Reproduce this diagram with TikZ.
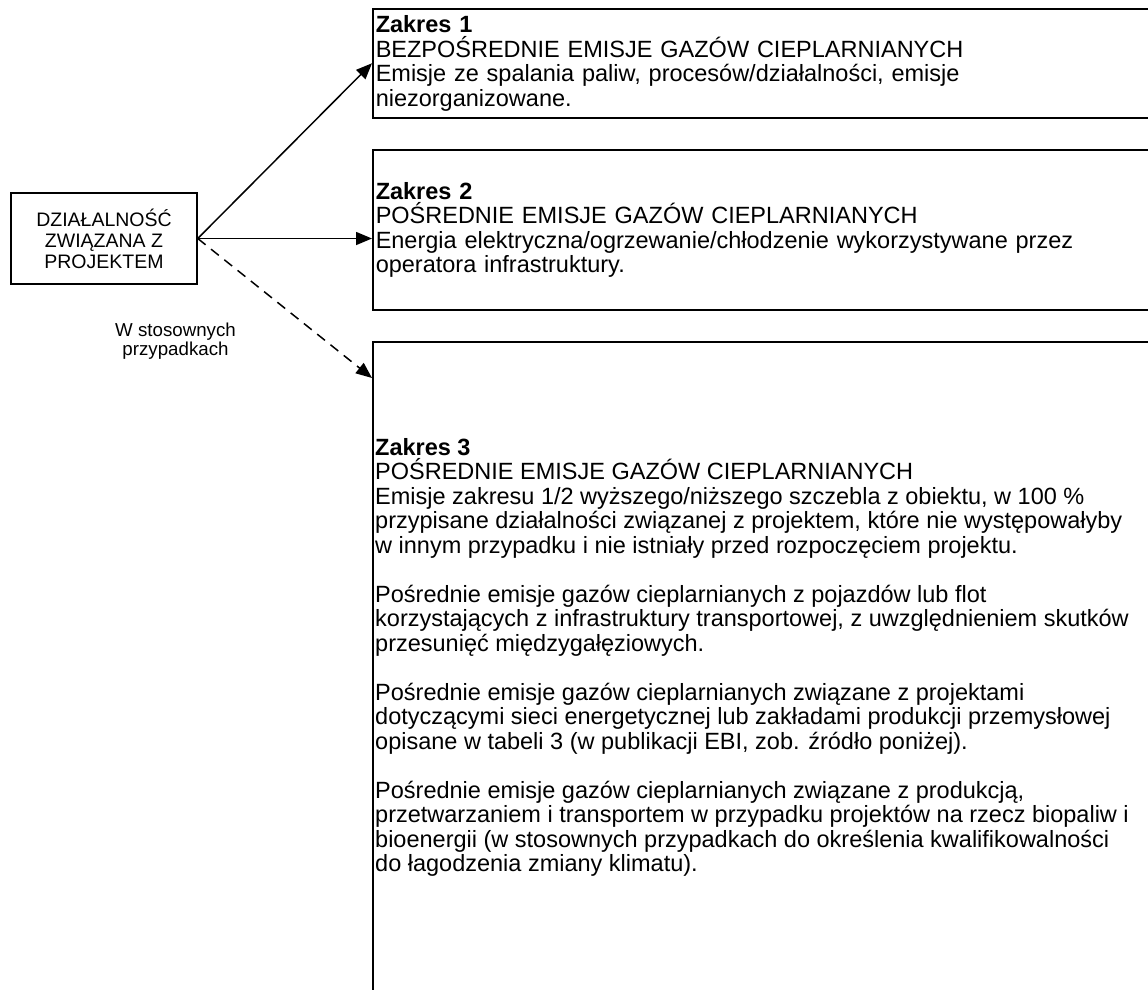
\documentclass[tikz,border=0pt]{standalone}
\usepackage{fontspec}
\setmainfont{Liberation Sans}
\usetikzlibrary{arrows.meta,positioning}

\tikzset{
  ramka/.style={draw, line width=1.5pt, anchor=north west, minimum width=800pt,
    text width=794pt, inner xsep=3pt, inner ysep=0pt, align=left,
    font=\fontsize{23.5}{24.5}\selectfont},
  opis/.style={anchor=north west, align=left, inner sep=0pt, font=\fontsize{23.5}{24.5}\selectfont},
  strzalka/.style={line width=1.5pt, -{Triangle[length=16pt,width=13pt]}},
}

\begin{document}
\begin{tikzpicture}[x=1pt,y=1pt]
\fill[white] (0,0) rectangle (1148,-989);
\useasboundingbox (0,0) rectangle (1148,-989);
% dzialalnosc
\node[draw, line width=1.5pt, minimum width=186pt, minimum height=91pt, align=center,
  font=\fontsize{19.5}{21}\selectfont] (dzialalnosc) at (104,-238.5)
  {DZIAŁALNOŚĆ\\ZWIĄZANA Z\\PROJEKTEM};
% ramki zakresow
\node[ramka, minimum height=109pt] (zakres1) at (372,-8)
  {\textbf{Zakres 1}\\
   BEZPOŚREDNIE EMISJE GAZÓW CIEPLARNIANYCH\\
   Emisje ze spalania paliw, procesów/działalności, emisje\\
   niezorganizowane.};
\node[ramka, minimum height=160pt] (zakres2) at (372,-149)
  {\textbf{Zakres 2}\\
   POŚREDNIE EMISJE GAZÓW CIEPLARNIANYCH\\
   Energia elektryczna/ogrzewanie/chłodzenie wykorzystywane przez\\
   operatora infrastruktury.};
\node[ramka, minimum height=700pt] (zakres3) at (372,-341) {};
\node[opis] (opis3) at ([xshift=3pt,yshift=-96.8pt]zakres3.north west)
  {\textbf{Zakres 3}\\
   POŚREDNIE EMISJE GAZÓW CIEPLARNIANYCH\\
   Emisje zakresu 1/2 wyższego/niższego szczebla z obiektu, w 100 \%\\
   przypisane działalności związanej z projektem, które nie występowałyby\\
   w innym przypadku i nie istniały przed rozpoczęciem projektu.\\[24.5pt]
   Pośrednie emisje gazów cieplarnianych z pojazdów lub flot\\
   korzystających z infrastruktury transportowej, z uwzględnieniem skutków\\
   przesunięć międzygałęziowych.\\[24.5pt]
   Pośrednie emisje gazów cieplarnianych związane z projektami\\
   dotyczącymi sieci energetycznej lub zakładami produkcji przemysłowej\\
   opisane w tabeli 3 (w publikacji EBI, zob. źródło poniżej).\\[24.5pt]
   Pośrednie emisje gazów cieplarnianych związane z produkcją,\\
   przetwarzaniem i transportem w przypadku projektów na rzecz biopaliw i\\
   bioenergii (w stosownych przypadkach do określenia kwalifikowalności\\
   do łagodzenia zmiany klimatu).};
% strzalki
\draw[strzalka] (dzialalnosc.east) -- (zakres1.west);
\draw[strzalka] (dzialalnosc.east) -- (dzialalnosc.east -| zakres2.west);
\draw[strzalka, dash pattern=on 10pt off 7pt] (dzialalnosc.east) -- ([yshift=-37pt]zakres3.north west);
\node[font=\fontsize{18.7}{19}\selectfont, align=center] (uwaga) at (175.5,-341)
  {W stosownych\\przypadkach};
\end{tikzpicture}
\end{document}
